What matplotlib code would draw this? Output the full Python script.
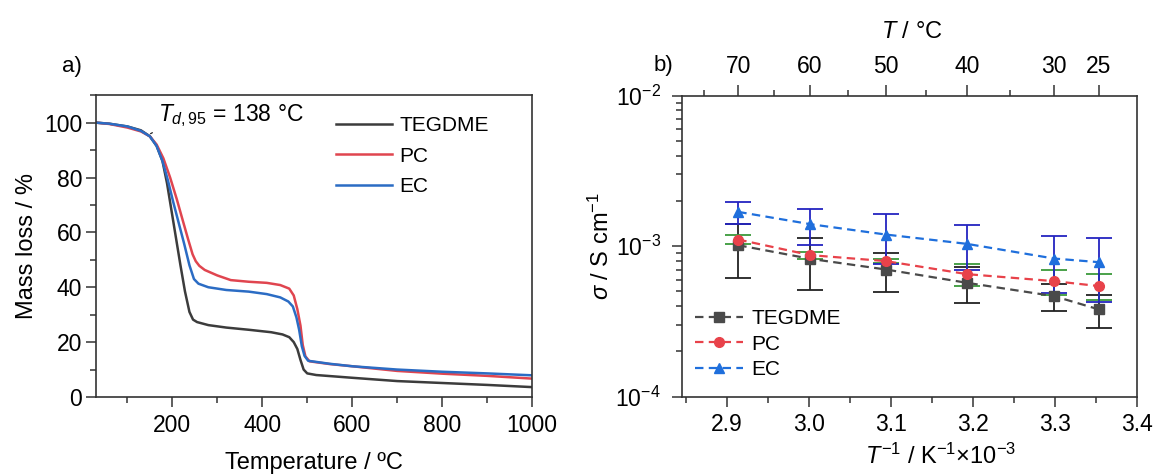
import numpy as np
import matplotlib
matplotlib.use("Agg")
import matplotlib.pyplot as plt
from matplotlib.ticker import MultipleLocator, FixedLocator, NullFormatter, LogLocator

plt.rcParams["font.family"] = ["Liberation Sans", "DejaVu Sans"]
plt.rcParams["mathtext.fontset"] = "custom"
plt.rcParams["mathtext.rm"] = "Liberation Sans"
plt.rcParams["mathtext.it"] = "Liberation Sans:italic"
plt.rcParams["mathtext.bf"] = "Liberation Sans:bold"

# ---- panel a: TGA (temperature in degC, mass in %) ----
tga_T_tegdme = [30, 60, 100, 130, 150, 165, 178, 188, 198, 208, 218, 228, 238, 246, 255,
                280, 320, 370, 420, 445, 460, 470, 478, 485, 492, 500, 520, 600, 700,
                800, 900, 1000]
tga_m_tegdme = [100, 99.6, 98.6, 97.2, 95, 91.5, 86, 78, 68, 58, 48, 38.5, 31, 28.2, 27.3,
                26.2, 25.3, 24.5, 23.6, 22.8, 21.8, 20, 17.5, 13.5, 10, 8.6, 8, 7, 5.8,
                5.1, 4.4, 3.6]
tga_T_pc = [30, 60, 100, 130, 150, 165, 180, 195, 210, 222, 235, 245, 252, 260, 272, 300,
            330, 370, 410, 440, 460, 470, 478, 485, 490, 496, 505, 550, 600, 700,
            800, 900, 1000]
tga_m_pc = [100, 99.5, 98.2, 96.8, 95, 92, 87, 80, 72, 65, 57.5, 52, 49.5, 47.8, 46.3, 44.3,
            42.6, 42, 41.6, 40.8, 39.5, 37, 32, 26, 19, 14.8, 13, 12, 11.2, 9.5,
            8.5, 7.7, 6.7]
tga_T_ec = [30, 60, 100, 130, 150, 165, 178, 190, 202, 214, 226, 238, 248, 258, 280,
            320, 370, 410, 440, 458, 468, 476, 482, 488, 494, 502, 550, 600, 700,
            800, 900, 1000]
tga_m_ec = [100, 99.6, 98.6, 97, 95, 91.5, 86, 79, 71, 63.5, 56, 48, 43, 41.3, 40,
            39, 38.4, 37.5, 36.3, 34.8, 33, 29, 24.5, 18.5, 15, 13.2, 12.1, 11.2, 10,
            9.2, 8.6, 7.9]

# ---- panel b: conductivity vs 1000/T ----
inv_T = [2.914, 3.002, 3.094, 3.193, 3.299, 3.354]          # K^-1 x 1e-3
sig_tegdme = [1.015, 0.824, 0.700, 0.571, 0.466, 0.380]    # x 1e-3 S/cm
err_tegdme = [0.398, 0.311, 0.202, 0.152, 0.097, 0.096]
sig_pc = [1.107, 0.872, 0.796, 0.652, 0.586, 0.543]
err_pc = [0.076, 0.045, 0.025, 0.108, 0.114, 0.106]
sig_ec = [1.69, 1.40, 1.195, 1.036, 0.828, 0.783]
err_ec = [0.28, 0.377, 0.435, 0.342, 0.337, 0.357]

top_major_C = [70, 60, 50, 40, 30, 25]
top_minor_C = [75, 65, 55, 45, 35]

TICK_FS = 16.5
LAB_FS = 17
LEG_FS = 15
SPINE = "#333333"

fig = plt.figure(figsize=(11.56, 4.76), dpi=100)

# ================= panel a =================
ax = fig.add_axes([0.083, 0.166, 0.3772, 0.634])
ax.plot(tga_T_tegdme, tga_m_tegdme, color="#3c3c3c", lw=1.8, label="TEGDME")
ax.plot(tga_T_pc, tga_m_pc, color="#e0454f", lw=1.8, label="PC")
ax.plot(tga_T_ec, tga_m_ec, color="#2b6cc4", lw=1.8, label="EC")
ax.set_xlim(30, 1000)
ax.set_ylim(0, 110)
ax.xaxis.set_major_locator(FixedLocator([200, 400, 600, 800, 1000]))
ax.xaxis.set_minor_locator(MultipleLocator(100))
ax.yaxis.set_major_locator(FixedLocator([0, 20, 40, 60, 80, 100]))
ax.yaxis.set_minor_locator(MultipleLocator(10))
ax.tick_params(which="both", direction="out", top=False, right=False,
               labelsize=TICK_FS, color=SPINE, width=1.1)
ax.tick_params(which="major", length=7, pad=3)
ax.tick_params(which="minor", length=4)
ax.tick_params(axis="x", which="major", pad=5)
for s in ax.spines.values():
    s.set_color(SPINE)
    s.set_linewidth(1.2)
ax.set_ylabel("Mass loss / %", fontsize=LAB_FS)
ax.yaxis.set_label_coords(-0.133, 0.5)
ax.set_xlabel("Temperature / ºC", fontsize=LAB_FS)
ax.xaxis.set_label_coords(0.5, -0.182)
ax.legend(loc="upper left", bbox_to_anchor=(0.55, 0.93), frameon=False,
          fontsize=LEG_FS, handlelength=2.7, handletextpad=0.35,
          labelspacing=0.55, borderpad=0, borderaxespad=0)
ax.text(168, 102.6, r"$T_{d,95}$ = 138 °C", fontsize=16.5, va="center", ha="left")
ax.annotate("", xy=(146, 95.5), xytext=(161, 96.8),
            arrowprops=dict(arrowstyle="-", lw=0.9, color="#222222"))
fig.text(0.054, 0.86, "a)", fontsize=LAB_FS - 1, va="center")

# ================= panel b =================
bx = fig.add_axes([0.5897, 0.1666, 0.3936, 0.6324])
S = 1e-3
bx.errorbar(inv_T, np.array(sig_tegdme) * S, yerr=np.array(err_tegdme) * S, fmt="none",
            ecolor="#222222", elinewidth=1.3, capsize=9.5, capthick=1.3, zorder=1)
bx.errorbar(inv_T, np.array(sig_pc) * S, yerr=np.array(err_pc) * S, fmt="none",
            ecolor="#3a9a3a", elinewidth=1.3, capsize=9.5, capthick=1.3, zorder=1)
bx.errorbar(inv_T, np.array(sig_ec) * S, yerr=np.array(err_ec) * S, fmt="none",
            ecolor="#2424c0", elinewidth=1.3, capsize=9.5, capthick=1.3, zorder=1)
bx.plot(inv_T, np.array(sig_tegdme) * S, ls=(0, (3.8, 2.4)), lw=1.6, color="#4a4a4a",
        marker="s", ms=6.5, label="TEGDME", zorder=3)
bx.plot(inv_T, np.array(sig_pc) * S, ls=(0, (3.8, 2.4)), lw=1.6, color="#e8424a",
        marker="o", ms=7, label="PC", zorder=3)
bx.plot(inv_T, np.array(sig_ec) * S, ls=(0, (3.8, 2.4)), lw=1.6, color="#1f6fdc",
        marker="^", ms=7.5, label="EC", zorder=3)
bx.set_yscale("log")
bx.set_ylim(1e-4, 1e-2)
bx.set_xlim(2.845, 3.4)
bx.xaxis.set_major_locator(MultipleLocator(0.1))
bx.xaxis.set_minor_locator(MultipleLocator(0.05))
bx.xaxis.set_major_formatter(matplotlib.ticker.FormatStrFormatter("%.1f"))
bx.yaxis.set_major_locator(LogLocator(base=10, numticks=5))
bx.yaxis.set_minor_locator(LogLocator(base=10, subs=np.arange(2, 10), numticks=10))
bx.yaxis.set_minor_formatter(NullFormatter())
bx.tick_params(which="both", direction="out", top=False, right=False,
               labelsize=TICK_FS, color=SPINE, width=1.1)
bx.tick_params(which="major", length=7)
bx.tick_params(which="minor", length=4)
bx.tick_params(axis="y", which="major", pad=8)
bx.tick_params(axis="x", which="major", pad=5)
for s in bx.spines.values():
    s.set_color(SPINE)
    s.set_linewidth(1.2)
bx.set_ylabel(r"$\sigma$ / S cm$^{-1}$", fontsize=LAB_FS)
bx.yaxis.set_label_coords(-0.149, 0.5)
bx.set_xlabel(r"$T^{-1}$ / K$^{-1}$×10$^{-3}$", fontsize=LAB_FS)
bx.xaxis.set_label_coords(0.568, -0.155)
bx.legend(loc="upper left", bbox_to_anchor=(0.03, 0.29), frameon=False,
          fontsize=LEG_FS, handlelength=2.3, handletextpad=0.4,
          labelspacing=0.3, borderpad=0, borderaxespad=0)

tx = bx.twiny()
tx.set_xlim(bx.get_xlim())
tx.xaxis.set_major_locator(FixedLocator([1000 / (t + 273.15) for t in top_major_C]))
tx.xaxis.set_major_formatter(matplotlib.ticker.FixedFormatter([str(t) for t in top_major_C]))
tx.xaxis.set_minor_locator(FixedLocator([1000 / (t + 273.15) for t in top_minor_C]))
tx.tick_params(which="both", direction="out", labelsize=TICK_FS, color=SPINE, width=1.1)
tx.tick_params(which="major", length=8, pad=5)
tx.tick_params(which="minor", length=4)
for s in tx.spines.values():
    s.set_visible(False)
tx.set_xlabel(r"$T$ / °C", fontsize=LAB_FS)
tx.xaxis.set_label_coords(0.505, 1.19)
fig.text(0.574, 0.863, "b)", fontsize=LAB_FS - 1, va="center", ha="center")

fig.savefig("out.png", dpi=100)
